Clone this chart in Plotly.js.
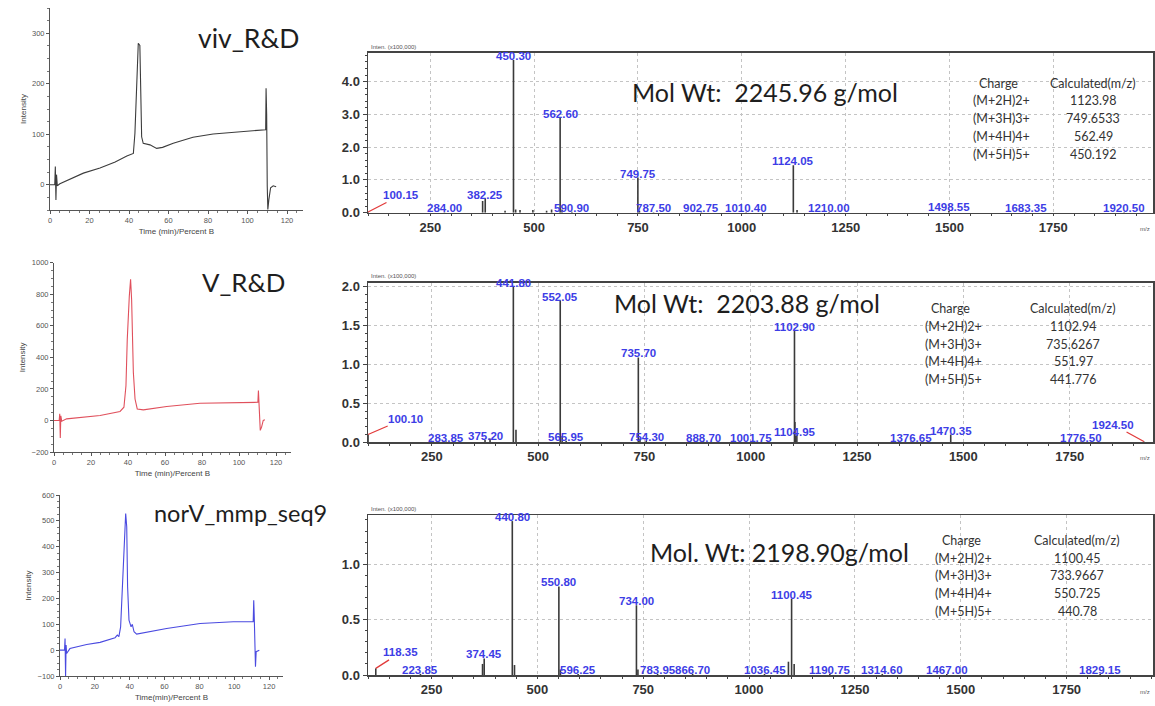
<!DOCTYPE html>
<html>
<head>
<meta charset="utf-8">
<script src="https://cdn.plot.ly/plotly-3.0.1.min.js"></script>
<style>
  html, body { margin: 0; padding: 0; background: #ffffff; }
  #chart { width: 1155px; height: 706px; }
</style>
</head>
<body>
<div id="chart"></div>
<script>
// ---------- HPLC chromatograms: retention time (min) vs detector intensity ----------
const vivTime = [0, 2.4, 2.7, 3.0, 3.3, 3.7, 5, 7.5, 10, 16.9, 25.3, 33, 38.9, 42.2, 43, 43.9, 44.3, 44.7, 45.5, 45.9, 46.4, 47.2, 50.6, 54, 57, 62.4, 72.4, 82.6, 92.8, 103, 108.9, 109.2, 109.4, 109.7, 110.0, 110.3, 110.8, 111.7, 113, 114.5];
const vivIntensity = [0, 0, 36, -30, 20, -2, 2, 6.5, 10, 23, 33, 45, 57, 62, 102, 181, 233, 280, 276, 168, 95, 82, 79, 72, 74, 82, 94, 100.6, 104, 106.5, 108.5, 109, 191, 140, -3, -49, -30, -6, -2, -4];

const vTime = [0, 2.8, 3.1, 3.4, 3.7, 4.2, 6.8, 17.6, 24.9, 35.7, 37.8, 38.9, 39.6, 40.7, 41.4, 41.96, 42.9, 43.8, 45, 48.3, 60.9, 78.9, 96.9, 110.2, 110.5, 110.8, 111.1, 111.5, 112.2, 113.1, 114];
const vIntensity = [0, 0, 42, -111, 30, -5, 10, 25, 31, 57, 84, 220, 514, 786, 895, 765, 304, 136, 73, 67, 88, 109, 115, 115, 189, 112, 0, -63, -42, 0, 4];

const norvTime = [0, 2.6, 2.9, 3.2, 3.5, 3.8, 5.7, 15.3, 23, 31.6, 32.9, 33.8, 34.8, 36, 36.7, 37.7, 38.3, 38.8, 39.6, 40.8, 41.5, 42.5, 44, 51.7, 61.2, 80.4, 99.5, 110.9, 111.2, 111.5, 111.8, 112.2, 112.6, 114.4];
const norvIntensity = [0, 0, 45, -103, 20, -13, 6, 22, 30, 48, 58, 52, 90, 271, 400, 528, 477, 245, 116, 90, 100, 71, 62, 71, 84, 103, 110, 110, 193, 129, -58, -64, -6, 0];

// ---------- ESI-MS peak lists: m/z vs intensity (x100,000) ----------
const vivMz        = [100.15, 284.00, 376.0, 382.25, 430.0, 450.30, 455.5, 466.0, 497.0, 530.0, 542.0, 562.60, 567.0, 590.90, 749.75, 753.5, 787.50, 902.75, 1010.40, 1124.05, 1133.0, 1210.00, 1498.55, 1683.35, 1920.50];
const vivAbundance = [0.02,   0.01,   0.36,  0.43,   0.06,  4.66,   0.10,  0.08,  0.08,  0.06,  0.10,  2.89,   0.10,  0.03,   1.07,   0.06,  0.01,   0.01,   0.01,    1.45,    0.08,   0.02,    0.05,    0.01,    0.01];
const vivLabels    = [100.15, 284.00, 382.25, 450.30, 562.60, 590.90, 749.75, 787.50, 902.75, 1010.40, 1124.05, 1210.00, 1498.55, 1683.35, 1920.50];

const vMz        = [100.10, 283.85, 375.20, 387.0, 441.80, 448.0, 552.05, 556.5, 565.95, 735.70, 739.5, 754.30, 888.70, 1001.75, 1102.90, 1103.9, 1104.95, 1108.5, 1376.65, 1470.35, 1776.50, 1924.50];
const vAbundance = [0.10,   0.01,   0.03,   0.05,  2.00,   0.16,  1.82,   0.08,  0.02,   1.09,   0.05,  0.02,   0.01,   0.01,    1.43,    0.26,   0.08,    0.10,   0.01,    0.10,    0.01,    0.01];
const vLabels    = [100.10, 283.85, 375.20, 441.80, 552.05, 565.95, 735.70, 754.30, 888.70, 1001.75, 1102.90, 1104.95, 1376.65, 1470.35, 1776.50, 1924.50];

const norvMz        = [118.35, 223.85, 370.5, 374.45, 440.80, 446.0, 550.80, 554.5, 596.25, 734.00, 737.5, 783.95, 866.70, 1036.45, 1093.0, 1100.45, 1106.5, 1190.75, 1314.60, 1467.00, 1829.15];
const norvAbundance = [0.06,   0.01,   0.10,  0.15,   1.39,   0.09,  0.80,   0.05,  0.01,   0.63,   0.05,  0.01,   0.01,   0.01,    0.12,   0.69,    0.10,   0.01,    0.01,    0.01,    0.01];
const norvLabels    = [118.35, 223.85, 374.45, 440.80, 550.80, 596.25, 734.00, 783.95, 866.70, 1036.45, 1100.45, 1190.75, 1314.60, 1467.00, 1829.15];

// ---------- calculated m/z per charge state ----------
const chargeStates = ['(M+2H)2+', '(M+3H)3+', '(M+4H)4+', '(M+5H)5+'];
const vivCalculated  = ['1123.98', '749.6533', '562.49', '450.192'];
const vCalculated    = ['1102.94', '735.6267', '551.97', '441.776'];
const norvCalculated = ['1100.45', '733.9667', '550.725', '440.78'];

const sampleNames = ['viv_R&D', 'V_R&D', 'norV_mmp_seq9'];
const molWeights  = ['Mol Wt:\u00a0 2245.96 g/mol', 'Mol Wt:\u00a0 2203.88 g/mol', 'Mol. Wt: 2198.90g/mol'];

// ---------- geometry helpers (pixels -> paper) ----------
const W = 1155, H = 706;
const px = v => v / W;
const py = v => 1 - v / H;

const traces = [];
const annotations = [];

// chromatogram traces
[[vivTime, vivIntensity, '#3c3c3c'], [vTime, vIntensity, '#e0505c'], [norvTime, norvIntensity, '#4a4ae0']]
  .forEach(([t, y, c], i) => {
    const k = i + 1;
    traces.push({
      type: 'scatter', mode: 'lines', x: t, y: y,
      xaxis: 'x' + (k === 1 ? '' : k), yaxis: 'y' + (k === 1 ? '' : k),
      line: { color: c, width: 1.1 }, hoverinfo: 'skip', showlegend: false
    });
  });

// stick spectra
function sticks(mz, ab) {
  const xs = [], ys = [];
  mz.forEach((m, i) => { xs.push(m, m, null); ys.push(0, ab[i], null); });
  return { xs, ys };
}
const spectra = [[vivMz, vivAbundance, vivLabels], [vMz, vAbundance, vLabels], [norvMz, norvAbundance, norvLabels]];
spectra.forEach(([mz, ab], i) => {
  const s = sticks(mz, ab);
  traces.push({
    type: 'scatter', mode: 'lines', x: s.xs, y: s.ys,
    xaxis: 'x' + (i + 4), yaxis: 'y' + (i + 4),
    line: { color: '#3a3a3a', width: 1.6 }, hoverinfo: 'skip', showlegend: false, cliponaxis: true
  });
});

// peak labels (red leader lines for the edge labels)
const leaders = [
  { '100.15': [33, -17] },
  { '100.10': [37, -16], '1924.50': [-31, -17] },
  { '118.35': [25, -16] }
];
const peakFont = { family: 'Liberation Sans, Arial, sans-serif', size: 11.5, color: '#3d3de6', weight: 'bold' };
spectra.forEach(([mz, ab, labels], i) => {
  labels.forEach(m => {
    const v = ab[mz.indexOf(m)];
    const txt = m.toFixed(2);
    const lead = leaders[i][txt];
    const base = { xref: 'x' + (i + 4), yref: 'y' + (i + 4), x: m, y: v, text: txt, font: peakFont };
    if (lead) {
      annotations.push(Object.assign(base, {
        showarrow: true, arrowhead: 0, arrowwidth: 1.3, arrowcolor: '#e23b3b',
        ax: lead[0], ay: lead[1], standoff: 0, startstandoff: 0
      }));
    } else {
      annotations.push(Object.assign(base, { showarrow: false, yanchor: 'bottom', yshift: -4 }));
    }
  });
});

// chromatogram axes
const chromBoxes = [
  { l: 50, r: 302.8, t: 8, b: 210, yr: [-50, 350], dt: 100, xt: 'Time (min)/Percent B' },
  { l: 54, r: 290.8, t: 262.7, b: 452, yr: [-200, 1000], dt: 200, xt: 'Time (min)/Percent B' },
  { l: 60, r: 283, t: 495, b: 676, yr: [-100, 600], dt: 100, xt: 'Time(min)/Percent B' }
];
const layout = {
  width: W, height: H, margin: { l: 0, r: 0, t: 0, b: 0 },
  paper_bgcolor: '#ffffff', plot_bgcolor: 'rgba(0,0,0,0)', showlegend: false,
  annotations: annotations, shapes: []
};
const smallFont = { family: 'Arial, sans-serif', size: 7.5, color: '#555' };
chromBoxes.forEach((b, i) => {
  const k = i + 1, s = k === 1 ? '' : String(k);
  layout['xaxis' + s] = {
    domain: [px(b.l), px(b.r)], range: [0, 128], anchor: 'y' + s,
    showline: true, linecolor: '#555', linewidth: 1, ticks: 'outside', ticklen: 3, tickcolor: '#555',
    tick0: 0, dtick: 20, tickfont: smallFont, showgrid: false, zeroline: false,
    minor: { ticks: 'outside', ticklen: 2, dtick: 5, tickcolor: '#777' },
    title: { text: b.xt, font: { family: 'Arial, sans-serif', size: 8, color: '#444' }, standoff: 4 }
  };
  layout['yaxis' + s] = {
    domain: [py(b.b), py(b.t)], range: b.yr, anchor: 'x' + s,
    showline: true, linecolor: '#555', linewidth: 1, ticks: 'outside', ticklen: 3, tickcolor: '#555',
    tick0: 0, dtick: b.dt, tickfont: smallFont, showgrid: false, zeroline: false,
    minor: { ticks: 'outside', ticklen: 2, dtick: b.dt / 4, tickcolor: '#777' },
    title: { text: 'Intensity', font: { family: 'Arial, sans-serif', size: 8, color: '#444' }, standoff: 4 }
  };
});

// mass spectrum axes
const msBoxes = [
  { t: 52.7, b: 212.7, xr: [100, 1990], yr: [0, 4.88], dt: 1, mdt: 0.2 },
  { t: 282.7, b: 442.3, xr: [100, 1946], yr: [0, 2.05], dt: 0.5, mdt: 0.1 },
  { t: 515, b: 675, xr: [100, 1954], yr: [0, 1.445], dt: 0.5, mdt: 0.1 }
];
const msTick = { family: 'Arial, sans-serif', size: 13, color: '#333', weight: 'bold' };
msBoxes.forEach((b, i) => {
  const k = i + 4;
  layout['xaxis' + k] = {
    domain: [px(368), px(1153)], range: b.xr, anchor: 'y' + k,
    showline: true, mirror: true, linecolor: '#444', linewidth: 1.5,
    ticks: 'outside', ticklen: 2, tickcolor: '#444', tick0: 0, dtick: 250, tickfont: msTick,
    showgrid: true, gridcolor: '#c4c4c4', griddash: 'dot', gridwidth: 1, zeroline: false,
    minor: { ticks: 'outside', ticklen: 2, tick0: 0, dtick: 50, tickcolor: '#444', showgrid: false }
  };
  layout['yaxis' + k] = {
    domain: [py(b.b), py(b.t)], range: b.yr, anchor: 'x' + k,
    showline: true, mirror: true, linecolor: '#444', linewidth: 1.5,
    ticks: 'outside', ticklen: 4, tickcolor: '#444', tick0: 0, dtick: b.dt, tickformat: '.1f', tickfont: msTick,
    showgrid: true, gridcolor: '#c4c4c4', griddash: 'dot', gridwidth: 1, zeroline: false,
    minor: { ticks: 'outside', ticklen: 2, dtick: b.mdt, tickcolor: '#444', showgrid: false }
  };
});

// paper-positioned text
function paperText(text, x, y, font, xanchor, extra) {
  annotations.push(Object.assign({
    xref: 'paper', yref: 'paper', x: px(x), y: py(y), text: text, showarrow: false,
    xanchor: xanchor || 'center', yanchor: 'middle', font: font
  }, extra || {}));
}
const bigFont = { family: 'Lato, Noto Sans, sans-serif', size: 25, color: '#1e1e1e' };
const tblFont = { family: 'Lato, Noto Sans, sans-serif', size: 12.5, color: '#333' };
const tinyFont = { family: 'Arial, sans-serif', size: 6, color: '#555' };

// sample names
[[196, 38, 26.5], [200, 281.7, 25.8], [152, 513.3, 23.5]].forEach((p, i) =>
  paperText(sampleNames[i], p[0], p[1], Object.assign({}, bigFont, { size: p[2] }), 'left'));

// molecular weights
[[630, 91.7], [611.7, 303], [648, 551.7]].forEach((p, i) =>
  paperText(molWeights[i], p[0], p[1], bigFont, 'left'));

// charge-state tables
const tables = [
  { hy: 83, step: 17.8, lx: 971, cx: 998, vx: 1093, vals: vivCalculated },
  { hy: 308.3, step: 17.9, lx: 922.7, cx: 950, vx: 1073, vals: vCalculated },
  { hy: 540.7, step: 17.6, lx: 932.7, cx: 961.7, vx: 1077, vals: norvCalculated }
];
tables.forEach(tb => {
  paperText('Charge', tb.cx, tb.hy, tblFont, 'center');
  paperText('Calculated(m/z)', tb.vx, tb.hy, tblFont, 'center');
  chargeStates.forEach((c, r) => {
    const y = tb.hy + tb.step * (r + 1);
    paperText(c, tb.lx, y, tblFont, 'left');
    paperText(tb.vals[r], tb.vx, y, tblFont, 'center');
  });
});

// intensity unit and m/z captions
[46.7, 276, 509].forEach(y => paperText('Inten. (x100,000)', 393, y, tinyFont, 'center'));
[229, 458, 692].forEach(y => paperText('m/z', 1145, y, tinyFont, 'center'));

Plotly.newPlot('chart', traces, layout, { displayModeBar: false, staticPlot: true });
</script>
</body>
</html>
